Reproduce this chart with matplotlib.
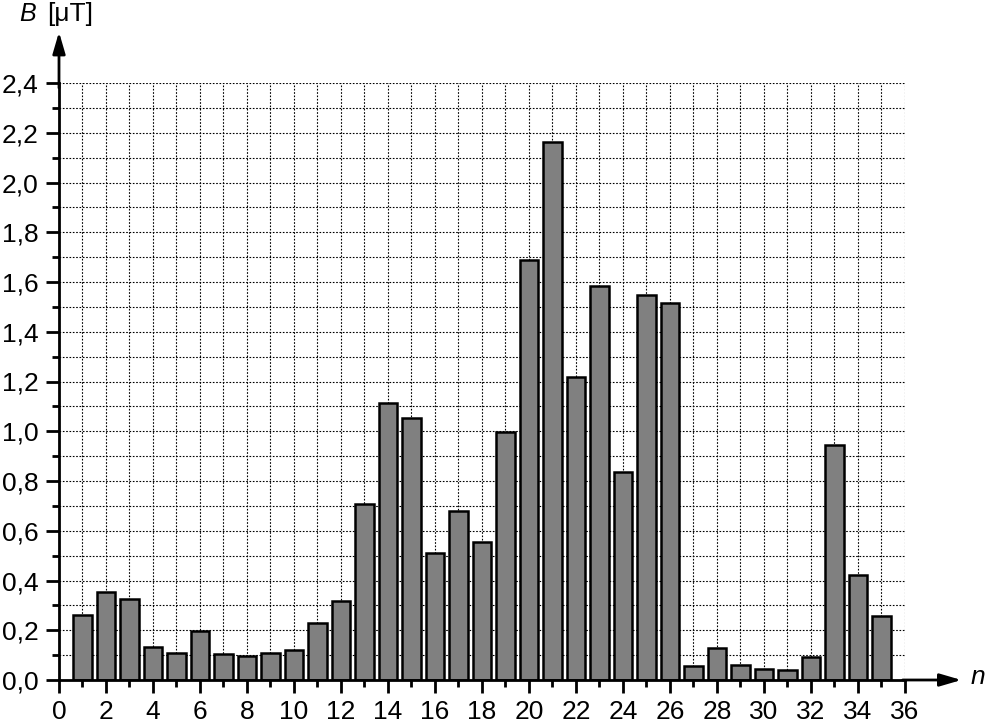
import matplotlib
matplotlib.use("Agg")
import matplotlib.pyplot as plt
from matplotlib.ticker import MultipleLocator, FuncFormatter

plt.rcParams['font.family'] = ['Liberation Sans', 'DejaVu Sans']

n = list(range(1, 36))
B = [0.26, 0.354, 0.326, 0.133, 0.11, 0.197, 0.105, 0.097, 0.11, 0.12,
     0.23, 0.318, 0.708, 1.114, 1.055, 0.51, 0.68, 0.555, 0.997, 1.688,
     2.163, 1.218, 1.584, 0.836, 1.548, 1.516, 0.056, 0.129, 0.06, 0.044,
     0.04, 0.092, 0.945, 0.422, 0.257]
xticks = list(range(0, 37, 2))
yticks = [round(0.2 * i, 1) for i in range(13)]

W, H = 987, 724
fig = plt.figure(figsize=(W / 100, H / 100), dpi=100)
x0, x1 = 59, 905
y0, y1 = 680, 83
ax = fig.add_axes([x0 / W, (H - y0) / H, (x1 - x0) / W, (y0 - y1) / H])

ax.bar(n, B, width=0.8, color='#808080', edgecolor='black', linewidth=1.8, zorder=3)

ax.set_xlim(0, 36)
ax.set_ylim(0, 2.4)
ax.xaxis.set_minor_locator(MultipleLocator(1))
ax.yaxis.set_minor_locator(MultipleLocator(0.1))
ax.set_xticks(xticks)
ax.set_yticks(yticks)
ax.yaxis.set_major_formatter(FuncFormatter(lambda v, p: f"{v:.1f}".replace('.', ',')))

ax.grid(which='both', color='black', linestyle=(0, (1.5, 1.5)), linewidth=0.8, zorder=1)
ax.set_axisbelow(True)

for s in ['top', 'right']:
    ax.spines[s].set_visible(False)
for s in ['left', 'bottom']:
    ax.spines[s].set_linewidth(2)
    ax.spines[s].set_zorder(5)

ax.tick_params(axis='both', which='major', direction='out', length=9.5, width=2, labelsize=19, pad=5)
ax.tick_params(axis='both', which='minor', direction='out', length=4.7, width=2)

# arrows
astyle = '-|>,head_length=1.3,head_width=0.38'
ax.annotate('', xy=(38.4, 0), xytext=(35.9, 0), annotation_clip=False,
            arrowprops=dict(arrowstyle=astyle, lw=2, color='black', mutation_scale=10, shrinkA=0, shrinkB=0))
ax.annotate('', xy=(0, 2.605), xytext=(0, 2.38), annotation_clip=False,
            arrowprops=dict(arrowstyle=astyle, lw=2, color='black', mutation_scale=10, shrinkA=0, shrinkB=0))

fig.text(19 / W, 1 - 14 / H, 'B', fontsize=18, style='italic', ha='left', va='center')
fig.text(47 / W, 1 - 14 / H, '[μT]', fontsize=19, ha='left', va='center')
fig.text(971 / W, 1 - 677 / H, 'n', fontsize=19, style='italic', ha='left', va='center')

fig.savefig('out.png', dpi=100)
